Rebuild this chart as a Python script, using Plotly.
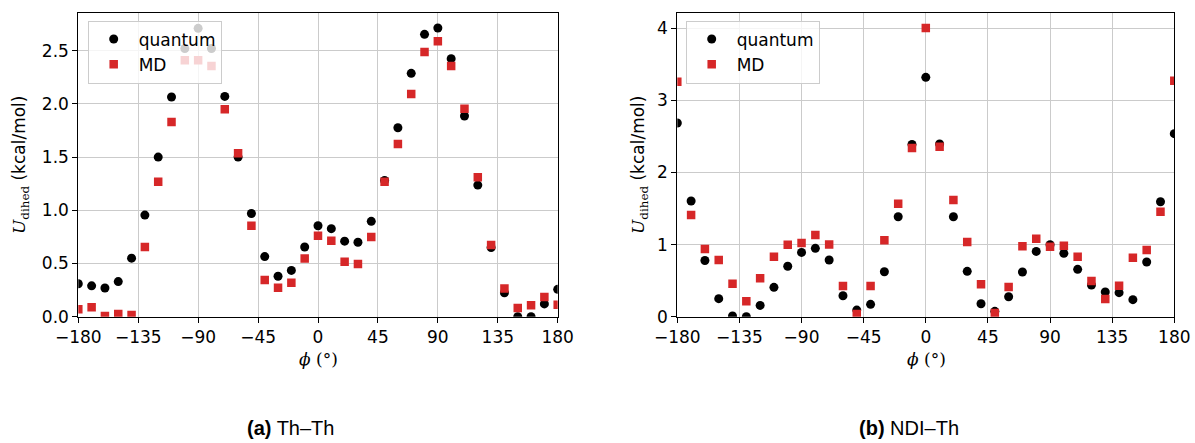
import plotly.graph_objects as go

phi = list(range(-180, 181, 10))

thth_quantum = [0.31, 0.29, 0.27, 0.33, 0.55, 0.955, 1.50, 2.065, 2.52, 2.71, 2.52, 2.07, 1.50, 0.97,
                0.565, 0.38, 0.435, 0.655, 0.855, 0.827, 0.71, 0.70, 0.896, 1.28, 1.776, 2.287, 2.653,
                2.713, 2.425, 1.886, 1.237, 0.65, 0.225, 0.0, 0.0, 0.12, 0.257]
thth_md = [0.069, 0.088, 0.006, 0.025, 0.016, 0.655, 1.269, 1.83, 2.41, 2.41, 2.356, 1.95, 1.535, 0.855,
           0.345, 0.273, 0.32, 0.548, 0.761, 0.714, 0.517, 0.495, 0.749, 1.269, 1.623, 2.093, 2.487,
           2.588, 2.356, 1.955, 1.31, 0.674, 0.266, 0.081, 0.107, 0.185, 0.113]

ndith_quantum = [2.687, 1.605, 0.78, 0.25, 0.01, 0.0, 0.157, 0.407, 0.70, 0.892, 0.948, 0.786, 0.29, 0.092,
                 0.171, 0.624, 1.387, 2.39, 3.32, 2.395, 1.387, 0.629, 0.18, 0.074, 0.277, 0.62, 0.906,
                 0.999, 0.879, 0.657, 0.44, 0.342, 0.333, 0.236, 0.758, 1.595, 2.539]
ndith_md = [3.26, 1.41, 0.939, 0.786, 0.458, 0.213, 0.532, 0.832, 0.999, 1.022, 1.133, 1.003, 0.425, 0.037,
            0.425, 1.059, 1.568, 2.34, 4.005, 2.358, 1.618, 1.036, 0.449, 0.051, 0.412, 0.976, 1.082,
            0.971, 0.985, 0.832, 0.495, 0.245, 0.43, 0.818, 0.925, 1.457, 3.274]

xtick_vals = [-180, -135, -90, -45, 0, 45, 90, 135, 180]
xtick_text = ["\u2212180", "\u2212135", "\u221290", "\u221245", "0", "45", "90", "135", "180"]
captions = ["<b>(a)</b> Th\u2013Th", "<b>(b)</b> NDI\u2013Th"]

BLACK = "#000000"
RED = "#d62728"
W, H = 1195, 443
FS = 17

fig = go.Figure()

fig.add_trace(go.Scatter(x=phi, y=thth_quantum, mode="markers", name="quantum",
                         marker=dict(symbol="circle", size=9, color=BLACK),
                         xaxis="x", yaxis="y", legend="legend"))
fig.add_trace(go.Scatter(x=phi, y=thth_md, mode="markers", name="MD",
                         marker=dict(symbol="square", size=8.5, color=RED),
                         xaxis="x", yaxis="y", legend="legend"))
fig.add_trace(go.Scatter(x=phi, y=ndith_quantum, mode="markers", name="quantum",
                         marker=dict(symbol="circle", size=9, color=BLACK),
                         xaxis="x2", yaxis="y2", legend="legend2"))
fig.add_trace(go.Scatter(x=phi, y=ndith_md, mode="markers", name="MD",
                         marker=dict(symbol="square", size=8.5, color=RED),
                         xaxis="x2", yaxis="y2", legend="legend2"))

tickfont = dict(family="DejaVu Sans", size=FS, color="black")
ytitle = ("<span style='font-family:DejaVu Serif'><i>U</i><sub>dihed</sub></span>"
          " (kcal/mol)")
xtitle = "<span style='font-family:DejaVu Serif'><i>\u03d5</i> (\u00b0)</span>"

common_x = dict(range=[-180, 180], tickmode="array", tickvals=xtick_vals, ticktext=xtick_text,
                showgrid=True, gridcolor="#cbcbcb", gridwidth=1, showline=True, linecolor="black",
                linewidth=1, mirror=True, ticks="outside", ticklen=5, tickcolor="black",
                tickfont=tickfont, zeroline=False, automargin=False)
common_y = dict(showgrid=True, gridcolor="#cbcbcb", gridwidth=1, showline=True, linecolor="black",
                linewidth=1, mirror=True, ticks="outside", ticklen=5, tickcolor="black",
                tickfont=tickfont, zeroline=False, automargin=False)

ydom = [1 - 316.7 / H, 1 - 13.3 / H]
legend_style = dict(xanchor="left", yanchor="top", bgcolor="rgba(255,255,255,0.8)",
                    bordercolor="#cccccc", borderwidth=1,
                    font=dict(family="DejaVu Sans", size=FS, color="black"), itemwidth=40,
                    tracegroupgap=0)

fig.update_layout(
    width=W, height=H, autosize=False,
    margin=dict(l=0, r=0, t=0, b=0, autoexpand=False),
    paper_bgcolor="white", plot_bgcolor="white",
    xaxis=dict(common_x, domain=[78.3 / W, 557.7 / W], anchor="y"),
    yaxis=dict(common_y, domain=ydom, range=[0, 2.851], tickvals=[0, 0.5, 1.0, 1.5, 2.0, 2.5],
               tickformat=".1f", anchor="x"),
    xaxis2=dict(common_x, domain=[677.3 / W, 1174.3 / W], anchor="y2"),
    yaxis2=dict(common_y, domain=ydom, range=[0, 4.208], tickvals=[0, 1, 2, 3, 4], anchor="x2"),
    legend=dict(legend_style, x=87.7 / W, y=1 - 20.5 / H),
    legend2=dict(legend_style, x=685.7 / W, y=1 - 20.5 / H),
    showlegend=True,
)

# axis titles
for cx in [318 / W, 926 / W]:
    fig.add_annotation(x=cx, y=1 - 359 / H, xref="paper", yref="paper", text=xtitle,
                       showarrow=False, xanchor="center", yanchor="middle",
                       font=dict(family="DejaVu Serif", size=FS, color="black"))
for cx in [20 / W, 639 / W]:
    fig.add_annotation(x=cx, y=1 - 165 / H, xref="paper", yref="paper", text=ytitle,
                       showarrow=False, xanchor="center", yanchor="middle", textangle=-90,
                       font=dict(family="DejaVu Sans", size=FS, color="black"))

for cx, text in zip([290.5 / W, 909 / W], captions):
    fig.add_annotation(x=cx, y=1 - 428 / H, xref="paper", yref="paper", text=text,
                       showarrow=False, xanchor="center", yanchor="middle",
                       font=dict(family="Liberation Sans, Arial", size=20, color="black"))

fig.write_html("out.html", config={"displayModeBar": False},
               post_script="document.body.style.margin='0';")
